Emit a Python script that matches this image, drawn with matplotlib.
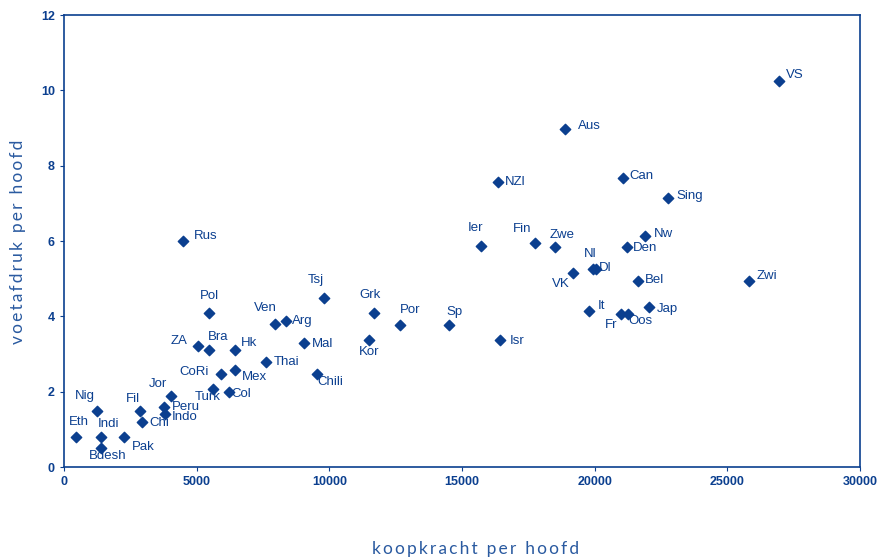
import matplotlib
matplotlib.use("Agg")
import matplotlib.pyplot as plt

# landen, koopkracht per hoofd en voetafdruk per hoofd
landen = ["VS", "Aus", "NZl", "Can", "Sing", "Rus", "Ier", "Fin", "Zwe", "Nw",
          "Den", "Nl", "Dl", "VK", "Bel", "Zwi", "It", "Fr", "Oos", "Jap",
          "Pol", "Tsj", "Grk", "Por", "Sp", "Isr", "Kor", "Ven", "Arg", "Mal",
          "Chili", "ZA", "Bra", "Hk", "Thai", "CoRi", "Mex", "Turk", "Col", "Jor",
          "Peru", "Indo", "Fil", "Chi", "Nig", "Eth", "Indi", "Pak", "Bdesh"]
koopkracht = [26950, 18900, 16350, 21050, 22750, 4500, 15700, 17750, 18500, 21900,
              21200, 19950, 20050, 19200, 21650, 25800, 19800, 21000, 21250, 22050,
              5450, 9800, 11700, 12650, 14500, 16450, 11500, 7950, 8350, 9050,
              9550, 5050, 5450, 6450, 7600, 5900, 6450, 5600, 6200, 4050,
              3750, 3800, 2850, 2950, 1250, 450, 1400, 2250, 1400]
voetafdruk = [10.25, 8.97, 7.57, 7.67, 7.14, 6.0, 5.87, 5.95, 5.85, 6.13,
              5.85, 5.25, 5.25, 5.15, 4.95, 4.95, 4.15, 4.05, 4.05, 4.25,
              4.1, 4.5, 4.08, 3.78, 3.78, 3.36, 3.37, 3.8, 3.88, 3.28,
              2.48, 3.2, 3.1, 3.1, 2.8, 2.48, 2.58, 2.08, 1.98, 1.88,
              1.6, 1.4, 1.5, 1.2, 1.5, 0.8, 0.8, 0.8, 0.5]

# plaatsing van de labels: (dx, dy) in pixels en uitlijning
plaats = {
    "VS": (7, 6, "left"), "Aus": (12, 3, "left"), "NZl": (7, 0, "left"),
    "Can": (7, 2, "left"), "Sing": (9, 2, "left"), "Rus": (10, 5, "left"),
    "Ier": (-5, 18, "center"), "Fin": (-13, 14, "center"), "Zwe": (7, 12, "center"),
    "Nw": (9, 2, "left"), "Den": (6, -1, "left"), "Nl": (-3, 15, "center"),
    "Dl": (3, 1, "left"), "VK": (-13, -11, "center"), "Bel": (6, 1, "left"),
    "Zwi": (8, 5, "left"), "It": (8, 5, "left"), "Fr": (-10, -11, "center"),
    "Oos": (1, -7, "left"), "Jap": (8, -2, "left"), "Pol": (1, 17, "center"),
    "Tsj": (-8, 17, "center"), "Grk": (-4, 18, "center"), "Por": (10, 15, "center"),
    "Sp": (6, 13, "center"), "Isr": (9, -1, "left"), "Kor": (0, -12, "center"),
    "Ven": (-10, 16, "center"), "Arg": (6, 0, "left"), "Mal": (8, -1, "left"),
    "Chili": (0, -8, "left"), "ZA": (-19, 5, "center"), "Bra": (10, 13, "center"),
    "Hk": (6, 7, "left"), "Thai": (8, 0, "left"), "CoRi": (-12, 2, "right"),
    "Mex": (7, -7, "left"), "Turk": (-5, -8, "center"), "Col": (3, -2, "left"),
    "Jor": (-14, 12, "center"), "Peru": (8, 0, "left"), "Indo": (7, -3, "left"),
    "Fil": (-7, 11, "center"), "Chi": (7, -1, "left"), "Nig": (-12, 15, "center"),
    "Eth": (3, 15, "center"), "Indi": (7, 13, "center"), "Pak": (8, -10, "left"),
    "Bdesh": (7, -8, "center"),
}

blauw = "#0b3f8f"
plt.rcParams['font.family'] = ['Liberation Sans', 'DejaVu Sans']

fig = plt.figure(figsize=(8.79, 5.6), dpi=100)
ax = fig.add_axes([64/879, 1 - 467/560, 796/879, 452/560])

ax.scatter(koopkracht, voetafdruk, marker="D", s=28, color=blauw, zorder=3)

for naam, x, y in zip(landen, koopkracht, voetafdruk):
    dx, dy, ha = plaats[naam]
    ax.annotate(naam, (x, y), xytext=(dx, dy), textcoords="offset pixels",
                ha=ha, va="center", fontsize=9.5, color=blauw)

ax.set_xlim(0, 30000)
ax.set_ylim(0, 12)
ax.set_xticks(range(0, 30001, 5000))
ax.set_yticks(range(0, 13, 2))
ax.tick_params(colors=blauw, labelsize=9, length=3, width=0.8)
for lab in ax.get_xticklabels() + ax.get_yticklabels():
    lab.set_fontweight("bold")
for sp in ax.spines.values():
    sp.set_color(blauw)
    sp.set_linewidth(1.2)


def spatieer(tekst):
    # wat extra ruimte tussen de letters
    return "  ".join("\u2009".join(w) for w in tekst.split(" "))


fig.text(476/879, 1 - 549/560, spatieer("koopkracht per hoofd"), ha="center", va="center",
         fontsize=12.5, color="#2a5aa0", family=["Lato", "DejaVu Sans"])
fig.text(18/879, 1 - 242/560, spatieer("voetafdruk per hoofd"), ha="center", va="center",
         rotation=90, fontsize=12.5, color="#2a5aa0", family=["Lato", "DejaVu Sans"])

fig.savefig("out.png", dpi=100)
